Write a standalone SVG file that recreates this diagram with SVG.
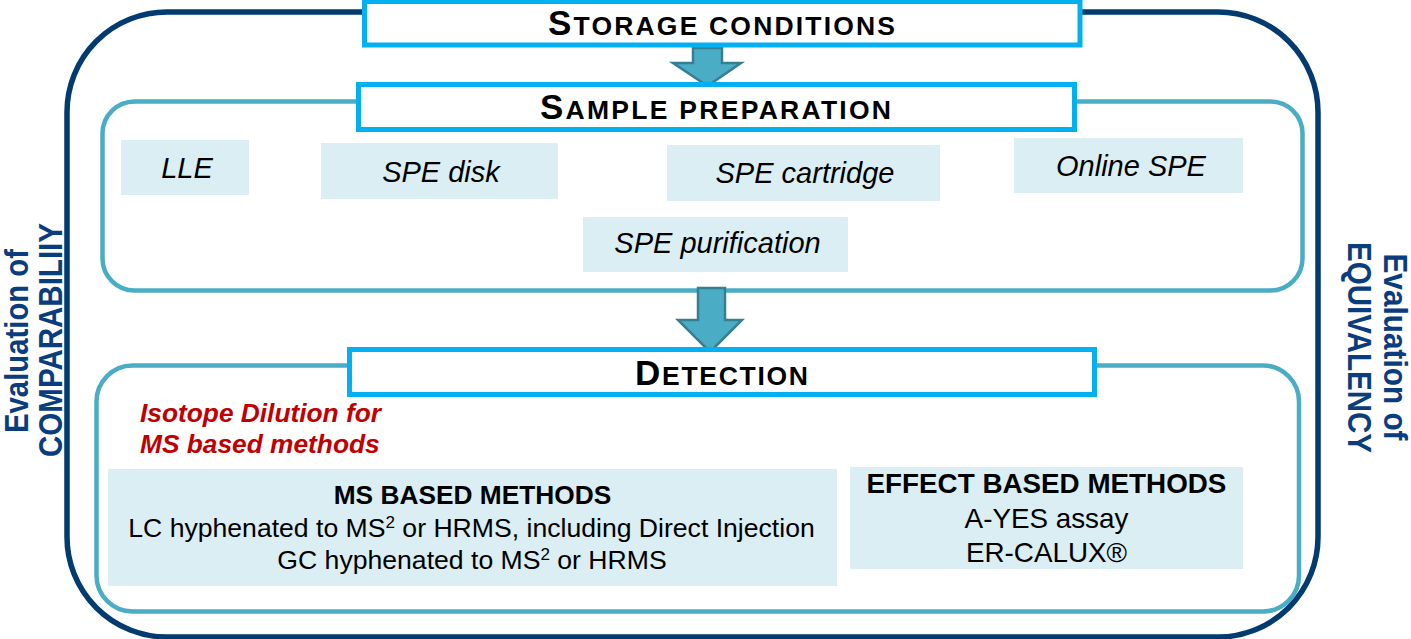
<svg xmlns="http://www.w3.org/2000/svg" width="1411" height="639" viewBox="0 0 1411 639">
<style>
.outer{fill:none;stroke:#023B70;stroke-width:5.5}
.cont{fill:none;stroke:#4BACC6;stroke-width:4.5}
.title-box{fill:#FFFFFF;stroke:#00B0F0;stroke-width:5}
.item{fill:#DAEEF3}
.title{font-family:"Liberation Sans",Arial,sans-serif;font-weight:bold;fill:#000000}
.ital{font-family:"Liberation Sans",Arial,sans-serif;font-style:italic;font-size:29px;fill:#000000;text-anchor:middle}
.body{font-family:"Liberation Sans",Arial,sans-serif;fill:#000000;text-anchor:middle}
.bold{font-weight:bold}
.red{font-family:"Liberation Sans",Arial,sans-serif;font-weight:bold;font-style:italic;font-size:26.3px;fill:#C00000}
.side{font-family:"Liberation Sans",Arial,sans-serif;font-weight:bold;font-size:32.5px;fill:#0A3D7E;text-anchor:middle}
.arrow{fill:#4BACC6;stroke:#357F93;stroke-width:2.5;stroke-linejoin:miter}
</style>

<g id="frame">
<rect class="outer" x="67" y="12" width="1251" height="625" rx="100" ry="100"/>
<text class="side" transform="translate(27.5,341) rotate(-90)" textLength="184" lengthAdjust="spacingAndGlyphs">Evaluation of</text>
<text class="side" transform="translate(62,340) rotate(-90)" textLength="234" lengthAdjust="spacingAndGlyphs">COMPARABILIIY</text>
<text class="side" transform="translate(1384,347) rotate(90)" textLength="187" lengthAdjust="spacingAndGlyphs">Evaluation of</text>
<text class="side" transform="translate(1348,347.5) rotate(90)" textLength="211" lengthAdjust="spacingAndGlyphs">EQUIVALENCY</text>
</g>

<g id="sample-container">
<rect class="cont" x="102.5" y="101.5" width="1200" height="189" rx="32" ry="32"/>
</g>
<g id="detection-container">
<rect class="cont" x="96.5" y="365.5" width="1202.5" height="246" rx="36" ry="36"/>
</g>

<g id="connectors">
<path class="arrow" d="M693,48 L722,48 L722,63 L741,63 L707.5,86 L673,63 L693,63 Z"/>
<path class="arrow" d="M698,288 L725,288 L725,320 L742,320 L710,352 L678,320 L698,320 Z"/>
</g>

<g id="storage">
<rect class="title-box" x="364.5" y="1.5" width="715.5" height="43.5"/>
<text class="title" x="548" y="35" textLength="347" lengthAdjust="spacing"><tspan font-size="35">S</tspan><tspan font-size="26.5">TORAGE CONDITIONS</tspan></text>
</g>

<g id="sample-preparation">
<rect class="title-box" x="358.5" y="84.5" width="716" height="45"/>
<text class="title" x="540" y="119" textLength="351" lengthAdjust="spacing"><tspan font-size="35">S</tspan><tspan font-size="26.5">AMPLE PREPARATION</tspan></text>
</g>

<g id="lle">
<rect class="item" x="121" y="140" width="128" height="55"/>
<text class="ital" x="187" y="178">LLE</text>
</g>
<g id="spe-disk">
<rect class="item" x="321" y="143" width="237" height="56"/>
<text class="ital" x="441" y="182">SPE disk</text>
</g>
<g id="spe-cartridge">
<rect class="item" x="667" y="145" width="273" height="56"/>
<text class="ital" x="805" y="183">SPE cartridge</text>
</g>
<g id="online-spe">
<rect class="item" x="1014" y="138" width="229" height="55"/>
<text class="ital" x="1131" y="176">Online SPE</text>
</g>
<g id="spe-purification">
<rect class="item" x="583" y="217" width="265" height="55"/>
<text class="ital" x="717.5" y="253">SPE purification</text>
</g>

<g id="detection">
<rect class="title-box" x="349.5" y="349.5" width="745" height="45"/>
<text class="title" x="635" y="385" textLength="173" lengthAdjust="spacing"><tspan font-size="35">D</tspan><tspan font-size="26.5">ETECTION</tspan></text>
</g>

<g id="isotope-dilution">
<text class="red" x="140" y="422">Isotope Dilution for</text>
<text class="red" x="140" y="453">MS based methods</text>
</g>

<g id="ms-methods">
<rect class="item" x="108" y="469" width="729" height="117"/>
<text class="body bold" x="472.5" y="504" font-size="26.3">MS BASED METHODS</text>
<text class="body" x="471.5" y="537" font-size="26.6">LC hyphenated to MS<tspan dy="-9" font-size="17">2</tspan><tspan dy="9"> or HRMS, including Direct Injection</tspan></text>
<text class="body" x="472" y="569" font-size="26.6">GC hyphenated to MS<tspan dy="-9" font-size="17">2</tspan><tspan dy="9"> or HRMS</tspan></text>
</g>

<g id="effect-methods">
<rect class="item" x="850" y="467" width="393" height="102"/>
<text class="body bold" x="1046.5" y="493" font-size="27.8">EFFECT BASED METHODS</text>
<text class="body" x="1046.5" y="528" font-size="27.8">A-YES assay</text>
<text class="body" x="1046.5" y="562" font-size="27.8">ER-CALUX®</text>
</g>
</svg>
